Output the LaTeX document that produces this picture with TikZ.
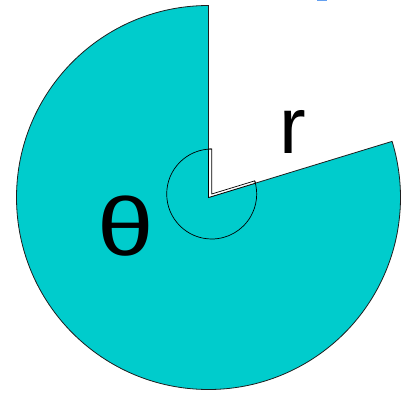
\documentclass[tikz,border=0pt]{standalone}
\usepackage{fontspec}
\setmainfont{Liberation Sans}
\usepackage{xcolor}
\usepackage{tikz}
\usetikzlibrary{calc}
\definecolor{sectorteal}{RGB}{0,204,204}
\definecolor{edgegrey}{RGB}{30,30,30}
\definecolor{speckblue}{RGB}{100,160,240}
\tikzset{
  sector/.style={fill=sectorteal,draw=edgegrey,line width=0.8pt},
  gapstrip/.style={fill=white,draw=black,line width=0.7pt},
  anglemark/.style={draw=black,line width=0.7pt},
  biglabel/.style={font=\fontsize{80}{80}\selectfont,inner sep=0pt,anchor=base}
}
\begin{document}
\begin{tikzpicture}[x=1pt,y=1pt]
  \useasboundingbox (0,0) rectangle (409,392);
  \coordinate (C) at (208.5,194.5);
  \coordinate (I) at (211.7,198);
  \coordinate (E) at ($(C)+(17:192)$);
  \coordinate (a1) at ($(I)+(90:45)$);
  \coordinate (a2) at ($(I)+(17:45)$);
  % the sector
  \draw[sector] (C) -- ++(90:192) arc[start angle=90,end angle=377,radius=192] -- cycle;
  % thin white strip along the cut edges
  \draw[gapstrip] (C) -- (C |- a1) -- (a1) -- (I) -- (a2) -- ($(C)!(a2)!(E)$) -- cycle;
  % angle arc
  \draw[anglemark] (a1) arc[start angle=90,end angle=377,radius=45];
  \node[biglabel,xscale=1.27,yscale=1.03] (theta) at (126,137) {θ};
  \node[biglabel] (radius) at (293,238.7) {r};
  \fill[speckblue] (317,390.6) rectangle (327,392);
\end{tikzpicture}
\end{document}
